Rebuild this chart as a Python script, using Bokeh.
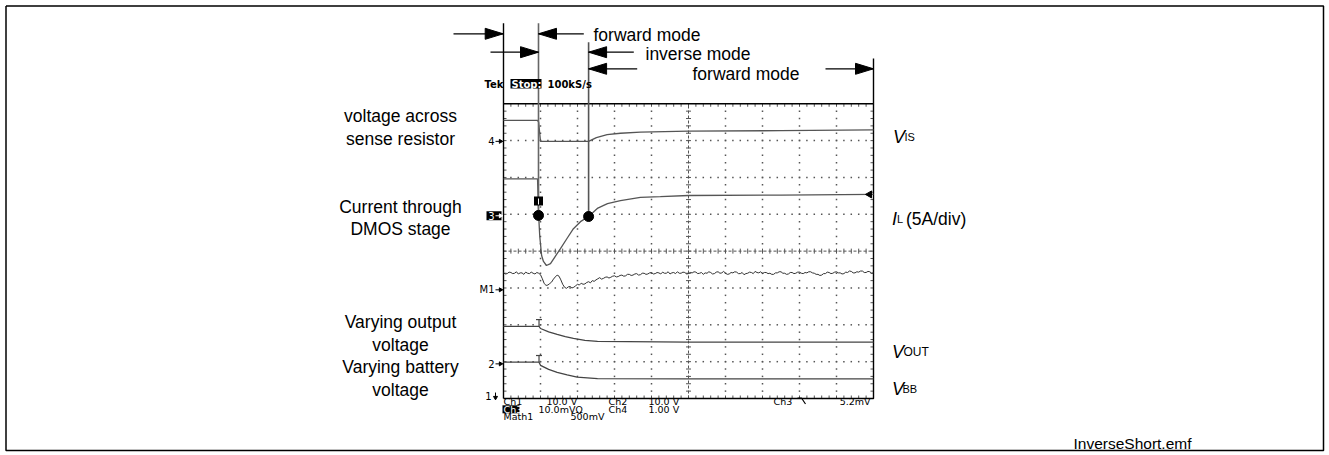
import numpy as np
from bokeh.plotting import figure
from bokeh.models import Range1d
from bokeh.core.properties import value
from bokeh.embed import file_html
from bokeh.resources import INLINE

# ---------------- data (oscilloscope divisions: x 0..10, y 0..8) ----------------
VIS_T = [0.0, 0.92, 0.95, 1.0, 2.30, 2.51, 2.80, 3.16, 3.70, 5.0, 7.49, 10.0]
VIS_V = [7.55, 7.55, 7.50, 6.98, 6.98, 7.08, 7.16, 7.20, 7.23, 7.26, 7.27, 7.29]

IL_T = [0.0, 0.92, 0.95, 0.98, 1.03, 1.08, 1.16, 1.27, 1.40, 1.54, 1.72, 1.89,
        2.08, 2.30, 2.55, 2.81, 3.16, 3.70, 4.24, 5.0, 7.49, 10.0]
IL_V = [5.96, 5.96, 4.97, 4.40, 3.88, 3.72, 3.61, 3.66, 3.86, 4.07, 4.35, 4.61,
        4.80, 4.94, 5.17, 5.29, 5.37, 5.46, 5.48, 5.51, 5.52, 5.54]

M1_T = [round(0.05 * i, 2) for i in range(201)]
M1_V = [3.41, 3.38, 3.39, 3.43, 3.42, 3.39, 3.40, 3.44, 3.38, 3.41,
        3.41, 3.37, 3.43, 3.40, 3.39, 3.43, 3.40, 3.38, 3.42, 3.40,
        3.36, 3.25, 3.12, 3.07, 3.08, 3.12, 3.16, 3.24, 3.30, 3.35,
        3.32, 3.22, 3.10, 3.02, 2.99, 3.03, 3.04, 3.00, 3.02, 3.06,
        3.10, 3.08, 3.13, 3.10, 3.11, 3.15, 3.17, 3.14, 3.20, 3.18,
        3.22, 3.25, 3.28, 3.24, 3.26, 3.29, 3.30, 3.27, 3.29, 3.32,
        3.33, 3.30, 3.31, 3.34, 3.35, 3.32, 3.33, 3.37, 3.37, 3.34,
        3.35, 3.38, 3.39, 3.35, 3.36, 3.40, 3.40, 3.37, 3.38, 3.41,
        3.42, 3.38, 3.39, 3.42, 3.41, 3.38, 3.43, 3.40, 3.40, 3.44,
        3.38, 3.41, 3.42, 3.39, 3.44, 3.40, 3.40, 3.43, 3.42, 3.38,
        3.39, 3.42, 3.41, 3.44, 3.43, 3.39, 3.40, 3.42, 3.37, 3.41,
        3.40, 3.44, 3.42, 3.38, 3.39, 3.43, 3.44, 3.40, 3.41, 3.45,
        3.40, 3.37, 3.38, 3.42, 3.41, 3.44, 3.43, 3.39, 3.39, 3.42,
        3.36, 3.39, 3.40, 3.43, 3.42, 3.39, 3.45, 3.42, 3.41, 3.44,
        3.39, 3.42, 3.42, 3.39, 3.40, 3.37, 3.37, 3.41, 3.41, 3.44,
        3.44, 3.40, 3.40, 3.37, 3.38, 3.42, 3.42, 3.39, 3.40, 3.43,
        3.43, 3.40, 3.39, 3.42, 3.41, 3.44, 3.44, 3.41, 3.40, 3.37,
        3.37, 3.34, 3.35, 3.39, 3.39, 3.43, 3.42, 3.39, 3.40, 3.43,
        3.44, 3.41, 3.41, 3.38, 3.39, 3.43, 3.42, 3.46, 3.45, 3.41,
        3.41, 3.44, 3.43, 3.46, 3.46, 3.42, 3.42, 3.45, 3.44, 3.40,
        3.41]

VOUT_T = [0.0, 0.96, 1.0, 1.22, 1.45, 1.67, 1.89, 2.2, 2.54, 5.0, 10.0]
VOUT_V = [1.96, 1.96, 1.90, 1.81, 1.74, 1.68, 1.63, 1.58, 1.55, 1.53, 1.53]

VBB_T = [0.0, 0.96, 1.0, 1.22, 1.45, 1.72, 1.99, 2.54, 5.0, 10.0]
VBB_V = [0.985, 0.985, 0.90, 0.79, 0.71, 0.64, 0.58, 0.54, 0.53, 0.53]

DOT_T = [0.946, 2.30]
DOT_V = [4.97, 4.94]

CH_LABELS = ["4", "3", "M1", "2", "1"]
CH_LEVELS = [6.98, 4.96, 2.95, 0.94, 0.08]

LEFT_LABELS = ["voltage across", "sense resistor", "Current through", "DMOS stage",
               "Varying output", "voltage", "Varying battery", "voltage"]

# ---------------- layout helpers (reference pixel -> division units) ----------------
GX, GY = 37.0, 36.84
W, H = 1329, 455


def X(px):
    return (px - 503.0) / GX


def Y(py):
    return (398.0 - py) / GY


def dx(n):
    return n / GX


def dy(n):
    return n / GY


p = figure(width=W, height=H,
           x_range=Range1d(X(0), X(W)), y_range=Range1d(Y(H), Y(0)),
           output_backend="svg", toolbar_location=None, min_border=0,
           x_axis_location=None, y_axis_location=None)
p.grid.visible = False
p.outline_line_color = None
p.background_fill_color = "white"
p.border_fill_color = "white"

SANS = value("Liberation Sans")
SCOPE = value("DejaVu Sans")


def txt(x, y, s, size, font=SANS, align="left", baseline="alphabetic",
        style="normal", color="black"):
    p.text(x=[x], y=[y], text=[s], text_font=font, text_font_size=size,
           text_align=align, text_baseline=baseline, text_font_style=style,
           text_color=color)


# outer frame
p.line([X(5.5), X(1323), X(1323), X(5.5), X(5.5)],
       [Y(5.5), Y(5.5), Y(450), Y(450), Y(5.5)], line_color="black", line_width=1.5)

# ---------------- graticule ----------------
gx, gy = [], []
for i in range(1, 10):
    if i == 5:
        continue
    for k in range(1, 40):
        gx.append(i); gy.append(k * 0.2)
for j in range(1, 8):
    if j == 4:
        continue
    for k in range(1, 50):
        gx.append(k * 0.2); gy.append(j)
p.scatter(gx, gy, marker="square", size=1.5, fill_color="#555", line_color=None)

# centre lines with ticks
p.line([5, 5], [0, 8], line_color="#555", line_width=1, line_dash="3 2")
p.line([0, 10], [4, 4], line_color="#555", line_width=1, line_dash="3 2")
tx0, tx1, ty0, ty1 = [], [], [], []
for k in range(1, 40):
    tx0.append(5 - dx(2.5)); tx1.append(5 + dx(2.5)); ty0.append(k * 0.2); ty1.append(k * 0.2)
for k in range(1, 50):
    tx0.append(k * 0.2); tx1.append(k * 0.2); ty0.append(4 - dy(2.5)); ty1.append(4 + dy(2.5))
# edge ticks
for k in range(1, 50):
    tx0 += [k * 0.2, k * 0.2]; tx1 += [k * 0.2, k * 0.2]
    ty0 += [8, 0]; ty1 += [8 - dy(3), dy(3)]
for k in range(1, 40):
    tx0 += [0, 10]; tx1 += [dx(3), 10 - dx(3)]
    ty0 += [k * 0.2, k * 0.2]; ty1 += [k * 0.2, k * 0.2]
p.segment(tx0, ty0, tx1, ty1, line_color="#555", line_width=1)

# border + extensions
p.line([0, 10, 10, 0, 0], [0, 0, 8, 8, 0], line_color="black", line_width=1.4)
p.line([0, 0], [Y(22.7), 8], line_color="black", line_width=1.4)
p.line([10, 10], [Y(58), 8], line_color="black", line_width=1.4)

# ---------------- traces ----------------
p.line(VIS_T, VIS_V, line_color="#555", line_width=1.3)
p.line(IL_T, IL_V, line_color="#555", line_width=1.3)
p.line(M1_T, M1_V, line_color="#333", line_width=1)
p.line(VOUT_T, VOUT_V, line_color="#444", line_width=1.3)
p.line(VBB_T, VBB_V, line_color="#444", line_width=1.3)

# small "T" markers on VOUT / VBB
for lvl in (VOUT_V[0], VBB_V[0]):
    p.segment([VOUT_T[1]], [lvl], [VOUT_T[1]], [lvl + dy(6.7)], line_color="#444", line_width=1.2)
    p.segment([VOUT_T[1] - dx(3)], [lvl + dy(6.7)], [VOUT_T[1] + dx(3)], [lvl + dy(6.7)],
              line_color="#444", line_width=1.2)

# marker lines down to the dots
p.segment([DOT_T[0]], [Y(22.7)], [DOT_T[0]], [DOT_V[0]], line_color="#666", line_width=1.6)
p.segment([DOT_T[1]], [Y(41.7)], [DOT_T[1]], [DOT_V[1]], line_color="#555", line_width=1.6)
p.scatter(DOT_T, DOT_V, size=10, fill_color="black", line_color="black")

# trigger position box
p.rect(x=[DOT_T[0]], y=[Y(200.5)], width=dx(9), height=dy(9), fill_color="black", line_color=None)
p.segment([DOT_T[0]], [Y(198)], [DOT_T[0]], [Y(204)], line_color="white", line_width=1)
# trigger level marker at right edge
p.scatter([X(869)], [IL_V[-1]], marker="triangle", angle=np.pi / 2, size=7,
          fill_color="black", line_color="black")

# ---------------- channel ground markers ----------------
for lab, lvl in zip(CH_LABELS, CH_LEVELS):
    col = "black"
    if lab == "3":
        p.rect(x=[X(493.5)], y=[lvl], width=dx(15), height=dy(9), fill_color="black", line_color=None)
        col = "white"
    if lab == "1":
        txt(X(491), lvl, lab, "10px", font=SCOPE, align="right", baseline="middle", color=col)
        p.segment([X(495)], [lvl + dy(3)], [X(495)], [lvl - dy(2)], line_color=col, line_width=1)
        p.scatter([X(495)], [lvl - dy(2)], marker="triangle", angle=np.pi, size=4,
                  fill_color=col, line_color=col)
    else:
        txt(X(494), lvl, lab, "10px", font=SCOPE, align="right", baseline="middle", color=col)
        p.segment([X(495)], [lvl], [X(500)], [lvl], line_color=col, line_width=1)
        p.scatter([X(500)], [lvl], marker="triangle", angle=-np.pi / 2, size=4,
                  fill_color=col, line_color=col)

# ---------------- scope header / footer text ----------------
txt(X(484), Y(83.5), "Tek", "10px", font=SCOPE, baseline="middle", style="bold")
p.rect(x=[X(525.5)], y=[Y(83.3)], width=dx(31), height=dy(9.5), fill_color="black", line_color=None)
txt(X(511), Y(83.5), "Stop:", "10px", font=SCOPE, baseline="middle", style="bold", color="white")
txt(X(547), Y(83.5), "100kS/s", "10px", font=SCOPE, baseline="middle", style="bold")

FS = "9.5px"
r1, r2, r3 = Y(401), Y(408.8), Y(416.3)
txt(X(503), r1, "Ch1", FS, font=SCOPE, baseline="middle")
txt(X(546), r1, "10.0 V", FS, font=SCOPE, baseline="middle")
txt(X(608), r1, "Ch2", FS, font=SCOPE, baseline="middle")
txt(X(648), r1, "10.0 V", FS, font=SCOPE, baseline="middle")
txt(X(773), r1, "Ch3", FS, font=SCOPE, baseline="middle")
p.line([X(797), X(801), X(805)], [Y(397.5), Y(397.5), Y(403.5)], line_color="black", line_width=1.2)
txt(X(870), r1, "5.2mV", FS, font=SCOPE, align="right", baseline="middle")
p.rect(x=[X(510.5)], y=[r2], width=dx(17), height=dy(8), fill_color="black", line_color=None)
txt(X(503), r2, "Ch3", FS, font=SCOPE, baseline="middle", color="white")
txt(X(538), r2, "10.0mVΩ", FS, font=SCOPE, baseline="middle")
txt(X(608), r2, "Ch4", FS, font=SCOPE, baseline="middle")
txt(X(648), r2, "1.00 V", FS, font=SCOPE, baseline="middle")
txt(X(503), r3, "Math1", FS, font=SCOPE, baseline="middle")
txt(X(570), r3, "500mV", FS, font=SCOPE, baseline="middle")

# ---------------- mode arrows ----------------
hx, hy = [], []


def head(tip_px, y_px, direction):
    bx = tip_px - direction * 18
    hx.append([X(tip_px), X(bx), X(bx)])
    hy.append([Y(y_px), Y(y_px - 5.5), Y(y_px + 5.5)])


tipA = 503 + DOT_T[0] * GX
tipB = 503 + DOT_T[1] * GX
lx0, lx1, ly = [], [], []
# row 1
lx0 += [X(453), X(tipA)]; lx1 += [X(502.7), X(583.3)]; ly += [Y(33.3), Y(33.3)]
head(502.7, 33.3, +1); head(tipA, 33.3, -1)
# row 2
lx0 += [X(490), X(tipB)]; lx1 += [X(tipA), X(633.3)]; ly += [Y(51.7), Y(51.7)]
head(tipA, 51.7, +1); head(tipB, 51.7, -1)
# row 3
lx0 += [X(tipB), X(825)]; lx1 += [X(636.7), X(873)]; ly += [Y(68.3), Y(68.3)]
head(tipB, 68.3, -1); head(873, 68.3, +1)
p.segment(lx0, ly, lx1, ly, line_color="black", line_width=1.3)
p.patches(hx, hy, fill_color="black", line_color="black")

BIG = "17.5px"
txt(X(593), Y(34.3), "forward mode", BIG)
txt(X(645), Y(53.3), "inverse mode", BIG)
txt(X(692), Y(73.3), "forward mode", BIG)

# ---------------- left descriptions ----------------
for s, b in zip(LEFT_LABELS, [115, 138.3, 206, 228.3, 321.7, 344, 366.7, 389]):
    txt(X(400), Y(b), s, BIG, align="center")

# ---------------- right signal names ----------------
txt(X(892.5), Y(136.7), "V", "18px", style="italic")
txt(X(904), Y(136.7), "IS", "11px")
txt(X(891.5), Y(218.3), "I", "18px", style="italic")
txt(X(896.5), Y(218.3), "L", "11px")
txt(X(905.5), Y(218.3), "(5A/div)", BIG)
txt(X(891.5), Y(351.7), "V", "18px", style="italic")
txt(X(903), Y(351.7), "OUT", "12px")
txt(X(891.5), Y(388.3), "V", "18px", style="italic")
txt(X(902), Y(388.3), "BB", "11px")

txt(X(1191), Y(443.3), "InverseShort.emf", "15.5px", align="right")

open("out.html", "w").write(file_html(p, INLINE))
